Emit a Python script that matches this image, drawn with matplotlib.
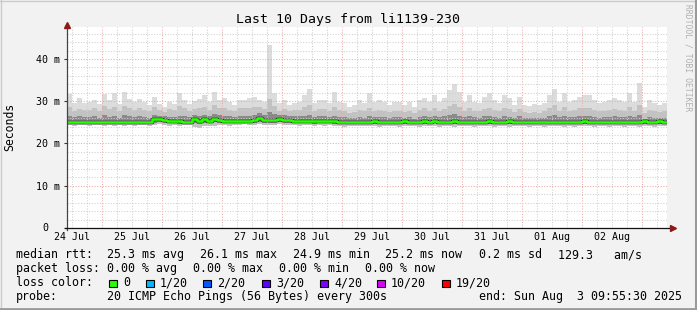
import matplotlib
matplotlib.use('Agg')
import matplotlib.pyplot as plt
import matplotlib.dates as mdates
from matplotlib.patches import Rectangle
from matplotlib.lines import Line2D
from datetime import datetime, timedelta

# --- dados (ms), um valor a cada 2 horas ---
inicio = datetime(2025, 7, 24, 9, 55, 30)
fim = datetime(2025, 8, 3, 9, 55, 30)

ping_max = [31.8, 29.6, 30.8, 29.6, 29.8, 30.2, 29.4, 31.8, 30.2, 31.9, 29.4, 32.3, 30.6, 29.8, 30.5,
            29.8, 29.0, 31.1, 29.4, 28.6, 29.9, 29.4, 32.0, 30.3, 29.4, 30.0, 30.6, 31.4, 29.8, 32.2,
            30.3, 30.8, 29.9, 29.0, 30.3, 30.3, 30.7, 31.1, 30.3, 29.9, 43.4, 32.0, 29.5, 30.3, 29.2,
            29.6, 29.9, 31.5, 33.0, 29.5, 30.3, 30.3, 29.5, 32.3, 29.9, 29.5, 28.7, 29.1, 30.3, 29.5,
            31.9, 29.9, 30.3, 29.9, 29.1, 29.9, 29.9, 29.1, 29.9, 28.7, 30.3, 30.7, 29.9, 31.5, 29.9,
            30.7, 32.6, 34.0, 32.3, 29.9, 31.5, 29.9, 29.5, 31.1, 31.9, 30.3, 29.5, 31.5, 30.7, 29.1,
            31.0, 29.1, 28.9, 29.3, 29.0, 29.5, 31.5, 33.0, 29.9, 31.9, 29.9, 30.3, 31.1, 31.5, 31.5,
            30.3, 29.5, 29.9, 30.3, 30.7, 30.3, 29.9, 31.9, 29.9, 34.4, 28.7, 30.3, 29.5, 29.1, 29.5]

ping_alto = [28.6, 27.8, 28.2, 27.9, 28.0, 28.4, 27.7, 28.9, 28.1, 28.6, 27.6, 28.8, 28.3, 27.9, 28.4,
             28.0, 27.6, 28.6, 28.0, 27.5, 28.1, 27.9, 28.9, 28.4, 27.8, 28.2, 28.5, 28.7, 28.0, 29.0,
             28.4, 28.5, 28.0, 27.7, 28.3, 28.3, 28.5, 28.7, 28.6, 28.1, 30.5, 28.8, 27.8, 28.2, 27.7,
             27.9, 28.0, 28.6, 29.0, 27.8, 28.2, 28.1, 27.7, 28.7, 27.9, 27.6, 27.3, 27.5, 28.0, 27.6,
             28.5, 27.8, 28.0, 27.7, 27.4, 27.8, 27.8, 27.4, 27.8, 27.2, 28.0, 28.3, 27.8, 28.5, 27.8,
             28.2, 28.9, 29.3, 28.7, 27.8, 28.4, 27.8, 27.6, 28.2, 28.5, 28.0, 27.6, 28.4, 28.1, 27.4,
             28.2, 27.4, 27.3, 27.5, 27.3, 27.6, 28.4, 29.0, 27.8, 28.6, 27.8, 28.0, 28.3, 28.5, 28.5,
             28.0, 27.6, 27.8, 28.0, 28.2, 28.0, 27.8, 28.6, 27.8, 29.2, 27.2, 28.0, 27.6, 27.4, 27.6]

ping_medio = [26.5, 26.2, 26.4, 26.2, 26.3, 26.4, 26.1, 26.7, 26.3, 26.6, 26.1, 26.7, 26.4, 26.2, 26.4,
              26.3, 26.1, 26.8, 26.6, 26.5, 26.3, 26.2, 26.6, 26.4, 26.2, 26.8, 26.4, 26.8, 26.4, 27.0,
              26.7, 26.6, 26.4, 26.3, 26.5, 26.4, 26.6, 26.8, 27.1, 26.8, 27.5, 26.9, 26.8, 26.7, 26.5,
              26.4, 26.4, 26.6, 26.8, 26.3, 26.4, 26.4, 26.3, 26.6, 26.3, 26.2, 26.0, 26.1, 26.3, 26.1,
              26.5, 26.2, 26.3, 26.2, 26.0, 26.2, 26.2, 26.0, 26.2, 25.9, 26.3, 26.4, 26.2, 26.5, 26.2,
              26.4, 26.7, 26.9, 26.6, 26.2, 26.5, 26.2, 26.1, 26.4, 26.5, 26.3, 26.1, 26.5, 26.3, 26.0,
              26.4, 26.0, 26.0, 26.1, 26.0, 26.1, 26.5, 26.7, 26.2, 26.5, 26.2, 26.3, 26.4, 26.5, 26.5,
              26.3, 26.1, 26.2, 26.3, 26.4, 26.3, 26.2, 26.5, 26.2, 26.8, 25.9, 26.3, 26.1, 26.0, 26.1]

mediana = [25.1, 25.1, 25.1, 25.1, 25.1, 25.1, 25.2, 25.1, 25.2, 25.1, 25.1, 25.2, 25.1, 25.1, 25.1,
           25.1, 25.2, 25.7, 25.7, 25.6, 25.3, 25.3, 25.3, 25.2, 25.2, 25.7, 25.3, 25.7, 25.4, 25.9,
           25.6, 25.4, 25.3, 25.3, 25.3, 25.3, 25.3, 25.6, 26.1, 25.6, 25.6, 25.6, 25.8, 25.6, 25.5,
           25.4, 25.3, 25.3, 25.3, 25.3, 25.3, 25.3, 25.3, 25.3, 25.2, 25.1, 25.1, 25.1, 25.1, 25.1,
           25.2, 25.3, 25.1, 25.2, 25.2, 25.1, 25.2, 25.3, 25.2, 25.2, 25.1, 25.3, 25.2, 25.4, 25.2,
           25.1, 25.2, 25.3, 25.2, 25.1, 25.1, 25.2, 25.1, 25.2, 25.3, 25.2, 25.1, 25.2, 25.3, 25.2,
           25.2, 25.1, 25.1, 25.2, 25.1, 25.2, 25.1, 25.1, 25.1, 25.2, 25.1, 25.1, 25.2, 25.3, 25.1,
           25.2, 25.1, 25.1, 25.2, 25.1, 25.1, 25.2, 25.1, 25.1, 25.2, 25.3, 25.1, 25.1, 25.3, 25.2]

ping_baixo = [24.7, 24.7, 24.8, 24.7, 24.7, 24.8, 24.7, 24.6, 24.8, 24.7, 24.8, 24.7, 24.7, 24.7, 24.8,
              24.7, 24.7, 24.9, 25.0, 24.9, 24.8, 24.8, 24.7, 24.8, 24.7, 24.9, 24.5, 24.9, 24.8, 25.0,
              24.9, 24.9, 24.8, 24.8, 24.8, 24.9, 24.8, 24.9, 25.2, 24.9, 24.9, 24.9, 25.0, 24.9, 24.9,
              24.8, 24.8, 24.8, 24.9, 24.7, 24.8, 24.8, 24.8, 24.7, 24.7, 24.6, 24.7, 24.6, 24.7, 24.6,
              24.7, 24.7, 24.6, 24.7, 24.6, 24.7, 24.6, 24.7, 24.7, 24.7, 24.6, 24.7, 24.7, 24.8, 24.6,
              24.7, 24.7, 24.7, 24.7, 24.6, 24.7, 24.6, 24.6, 24.7, 24.7, 24.6, 24.7, 24.7, 24.7, 24.7,
              24.7, 24.6, 24.6, 24.7, 24.6, 24.6, 24.7, 24.7, 24.6, 24.7, 24.6, 24.5, 24.7, 24.7, 24.6,
              24.6, 24.7, 24.6, 24.6, 24.7, 24.7, 24.6, 24.6, 24.7, 24.6, 24.7, 24.7, 24.6, 24.7, 24.7]

ping_min = [24.3, 24.2, 24.4, 24.3, 24.2, 24.4, 24.3, 24.1, 24.3, 24.2, 24.4, 24.1, 24.3, 24.2, 24.4,
            24.3, 24.2, 24.3, 24.5, 24.4, 24.2, 24.3, 24.1, 24.3, 24.3, 24.0, 23.6, 24.2, 24.1, 24.2,
            24.3, 24.4, 24.2, 24.4, 24.3, 24.5, 24.4, 24.3, 24.6, 24.4, 24.3, 24.4, 24.5, 24.3, 24.4,
            24.3, 24.2, 24.3, 24.4, 24.2, 24.3, 24.2, 24.3, 24.2, 24.2, 24.0, 24.2, 24.1, 24.2, 24.1,
            24.2, 24.1, 24.0, 24.2, 24.1, 24.2, 24.0, 24.2, 24.1, 24.2, 24.0, 24.1, 24.2, 24.1, 24.0,
            24.2, 24.1, 24.0, 24.2, 24.1, 24.2, 24.0, 24.1, 24.2, 24.1, 24.0, 24.2, 24.1, 24.0, 24.2,
            24.1, 24.2, 24.0, 24.1, 24.2, 24.0, 24.1, 24.2, 24.1, 24.0, 24.1, 23.9, 24.1, 24.2, 24.1,
            24.0, 24.2, 24.1, 24.0, 24.1, 24.2, 24.0, 24.1, 24.2, 24.0, 24.1, 24.2, 24.0, 24.1, 24.1]

# legenda
rtt_stats = ['25.3 ms avg', '26.1 ms max', '24.9 ms min', '25.2 ms now', '0.2 ms sd', '129.3   am/s']
loss_stats = ['0.00 % avg', '0.00 % max', '0.00 % min', '0.00 % now']
loss_labels = ['0', '1/20', '2/20', '3/20', '4/20', '10/20', '19/20']
loss_cores = ['#26ff00', '#00b8ff', '#0059ff', '#5e00ff', '#7e00ff', '#dd00ff', '#ff0000']
probe_txt = '20 ICMP Echo Pings (56 Bytes) every 300s'
end_txt = 'end: Sun Aug  3 09:55:30 2025'

W, H = 697, 310
MONO = 'DejaVu Sans Mono'
plt.rcParams['font.family'] = MONO

fig = plt.figure(figsize=(W / 100, H / 100), dpi=100, facecolor='#f2f2f2')
ax = fig.add_axes([67 / W, (H - 228) / H, 600 / W, 201 / H])
ax.set_facecolor('white')


def fx(px):
    return px / W


def fy(py):
    return 1 - py / H


tempos = [inicio + timedelta(hours=2 * i) for i in range(len(ping_max) + 1)]
xs = mdates.date2num(tempos)


def ext(v):
    return list(v) + [v[-1]]


# fumaça
ax.fill_between(xs, ext(ping_min), ext(ping_max), step='post', color='#dcdcdc', lw=0, zorder=1)
ax.fill_between(xs, ext(ping_min), ext(ping_alto), step='post', color='#c2c2c2', lw=0, zorder=1.2)
ax.fill_between(xs, ext(ping_baixo), ext(ping_medio), step='post', color='#8a8a8a', lw=0, zorder=1.4)

# mediana
ax.step(xs, ext(mediana), where='post', color='#111111', lw=2.5, zorder=3)
ax.step(xs, ext(mediana), where='post', color=loss_cores[0], lw=1.9, zorder=3.2)

ax.set_xlim(mdates.date2num(inicio), mdates.date2num(fim))
ax.set_ylim(0, 47.57)

# grades
ax.xaxis.set_major_locator(mdates.DayLocator())
ax.xaxis.set_minor_locator(mdates.HourLocator(byhour=[0, 6, 12, 18]))
ax.yaxis.set_major_locator(plt.MultipleLocator(10))
ax.yaxis.set_minor_locator(plt.MultipleLocator(2))
ax.set_axisbelow(False)
ax.grid(True, which='major', color='#f0a8a8', lw=0.75, ls=(0, (1, 1.6)))
ax.grid(True, which='minor', color='#cfcfcf', lw=0.75, ls=(0, (1, 1.6)))
ax.set_xticklabels([])
ax.tick_params(axis='x', which='both', length=0)
ax.tick_params(axis='y', which='minor', length=0)
ax.tick_params(axis='y', which='major', length=2, width=0.8, color='#333333', pad=3.4,
               labelsize=7.2)
ax.yaxis.set_major_formatter(plt.FuncFormatter(lambda v, p: '' if v == 0 else f'{v:g} m'))
ax.text(-0.0367, 0, '0', transform=ax.get_yaxis_transform(), ha='center', va='center', fontsize=7.2)

# rótulos dos dias ao meio-dia
for d in range(10):
    meio = datetime(2025, 7, 24, 12) + timedelta(days=d)
    ax.text(mdates.date2num(meio), -0.045, meio.strftime('%d %b'), transform=ax.get_xaxis_transform(),
            ha='center', va='center', fontsize=7.2)

for s in ax.spines.values():
    s.set_visible(False)

# eixos com setas
ax.plot([0, 0], [-0.01, 1.0], transform=ax.transAxes, color='#444444', lw=0.9, clip_on=False, zorder=5)
ax.plot([-0.004, 1.004], [0, 0], transform=ax.transAxes, color='#111111', lw=0.9, clip_on=False, zorder=5)
ax.plot([0], [1.012], marker='^', ms=4.2, color='#8b1a1a', transform=ax.transAxes, clip_on=False, zorder=6)
ax.plot([1.0095], [0], marker='>', ms=4.2, color='#8b1a1a', transform=ax.transAxes, clip_on=False, zorder=6)

# textos
fig.text(fx(348), fy(19), 'Last 10 Days from li1139-230', ha='center', va='center', fontsize=9.5)
fig.text(fx(10), fy(127), 'Seconds', rotation=90, ha='center', va='center', fontsize=8.3)
fig.text(fx(688), fy(58), 'RRDTOOL / TOBI OETIKER', rotation=270, ha='center', va='center',
         fontsize=5.8, color='#b0b0b0')

fs = 8.4
fig.text(fx(16), fy(258), 'median rtt:', fontsize=fs, va='baseline')
for t, x in zip(rtt_stats, [107, 200, 293, 385, 479, 558]):
    fig.text(fx(x), fy(258), t, fontsize=fs, va='baseline')

fig.text(fx(16), fy(272), 'packet loss:', fontsize=fs, va='baseline')
for t, x in zip(loss_stats, [107, 193, 279, 365]):
    fig.text(fx(x), fy(272), t, fontsize=fs, va='baseline')

fig.text(fx(16), fy(286), 'loss color:', fontsize=fs, va='baseline')
for t, c, x in zip(loss_labels, loss_cores, [109, 146, 203, 262, 320, 377, 442]):
    fig.patches.append(Rectangle((fx(x), fy(287)), 7.5 / W, 7.5 / H, transform=fig.transFigure,
                                 facecolor=c, edgecolor='black', lw=0.8))
    fig.text(fx(x + 14), fy(286), t, fontsize=fs, va='baseline')

fig.text(fx(16), fy(300), 'probe:', fontsize=fs, va='baseline')
fig.text(fx(107), fy(300), probe_txt, fontsize=fs, va='baseline')
fig.text(fx(479), fy(300), end_txt, fontsize=fs, va='baseline')

# moldura
fig.add_artist(Line2D([0, 1], [fy(0.5), fy(0.5)], transform=fig.transFigure, color='#cccccc', lw=1))
fig.add_artist(Line2D([fx(0.5), fx(0.5)], [0, 1], transform=fig.transFigure, color='#cccccc', lw=1))
fig.add_artist(Line2D([0, 1], [fy(309), fy(309)], transform=fig.transFigure, color='#9a9a9a', lw=2))
fig.add_artist(Line2D([fx(696), fx(696)], [0, 1], transform=fig.transFigure, color='#9a9a9a', lw=1.5))

fig.savefig('out.png', dpi=100, facecolor=fig.get_facecolor())
